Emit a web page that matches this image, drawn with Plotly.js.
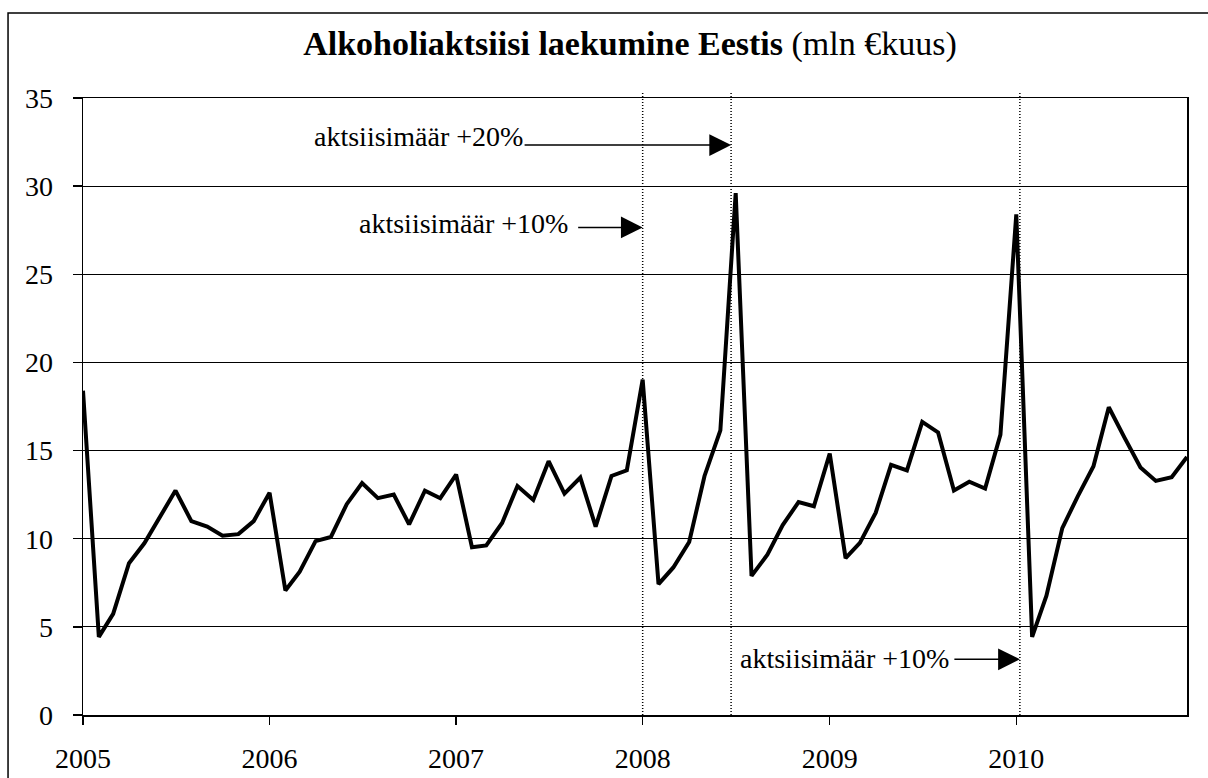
<!DOCTYPE html>
<html>
<head>
<meta charset="utf-8">
<script src="https://cdn.plot.ly/plotly-3.0.1.min.js"></script>
<style>html,body{margin:0;padding:0;background:#fff;}#chart{width:1208px;height:778px;}</style>
</head>
<body>
<div id="chart"></div>
<script>
// Monthly alcohol excise receipts in Estonia, mln € per month
const years = [2005, 2006, 2007, 2008, 2009, 2010];
const values2005 = [18.4, 4.43, 5.74, 8.61, 9.74, 11.24, 12.73, 11.0, 10.69, 10.17, 10.26, 11.0];
const values2006 = [12.61, 7.06, 8.13, 9.86, 10.1, 11.96, 13.16, 12.3, 12.51, 10.81, 12.73, 12.3];
const values2007 = [13.64, 9.52, 9.62, 10.89, 12.99, 12.2, 14.4, 12.56, 13.47, 10.69, 13.56, 13.88];
const values2008 = [19.02, 7.42, 8.37, 9.81, 13.56, 16.15, 29.6, 7.89, 9.09, 10.77, 12.08, 11.84];
const values2009 = [14.83, 8.9, 9.76, 11.48, 14.19, 13.88, 16.63, 16.03, 12.73, 13.23, 12.85, 15.91];
const values2010 = [28.4, 4.43, 6.77, 10.6, 12.39, 14.11, 17.46, 15.72, 14.04, 13.28, 13.49, 14.64];
const tickLabels = ['2005', '2006', '2007', '2008', '2009', '2010'];
const yTicks = [0, 5, 10, 15, 20, 25, 30, 35];

// Excise rate changes (event dates) and labels
const eventDates = ['2008-01-01', '2008-06-22', '2010-01-08'];
const eventLabels = ['aktsiisimäär +20%', 'aktsiisimäär +10%', 'aktsiisimäär +10%'];
const eventArrowDates = ['2008-06-22', '2008-01-01', '2010-01-08'];
const eventArrowLevels = [32.33, 27.66, 3.16];

const allValues = [values2005, values2006, values2007, values2008, values2009, values2010];
const x = [], y = [];
allValues.forEach((arr, yi) => {
  arr.forEach((v, m) => {
    x.push(years[yi] + '-' + String(m + 1).padStart(2, '0') + '-01');
    y.push(v);
  });
});

const FONT = "'Liberation Serif', 'Times New Roman', serif";

const trace = {
  x: x, y: y, type: 'scatter', mode: 'lines',
  line: {color: '#000', width: 4},
  hoverinfo: 'x+y'
};

const shapes = eventDates.map(d => ({
  type: 'line', xref: 'x', yref: 'paper', x0: d, x1: d, y0: 0, y1: 1.011,
  line: {color: '#000', width: 1.5, dash: '1px,2px'}, layer: 'between'
}));
// outer chart frame
shapes.push({
  type: 'rect', xref: 'paper', yref: 'paper',
  x0: -0.0679, x1: 1.03, y0: -0.12, y1: 1.1378,
  line: {color: '#000', width: 1.5}, fillcolor: 'rgba(0,0,0,0)', layer: 'above'
});

const arrowTails = [-208, -66, -67];
const textPos = [[0.4004, 0.937], [0.4415, 0.797], [0.7865, 0.0915]];

const annotations = [];
eventLabels.forEach((t, i) => {
  annotations.push({
    x: eventArrowDates[i], y: eventArrowLevels[i], xref: 'x', yref: 'y',
    ax: arrowTails[i], ay: 0, axref: 'pixel', ayref: 'pixel',
    text: '', showarrow: true, arrowhead: 2, arrowsize: 2.9, arrowwidth: 1.5,
    arrowcolor: '#000', standoff: 0
  });
  annotations.push({
    x: textPos[i][0], y: textPos[i][1], xref: 'paper', yref: 'paper',
    xanchor: 'right', yanchor: 'middle', showarrow: false, text: t,
    font: {family: FONT, size: 28, color: '#000'}
  });
});

const layout = {
  width: 1208, height: 778,
  margin: {l: 83, r: 21, t: 98, b: 63},
  paper_bgcolor: '#fff', plot_bgcolor: '#fff',
  showlegend: false,
  title: {
    text: '<b>Alkoholiaktsiisi laekumine Eestis</b> (mln €kuus)',
    font: {family: FONT, size: 34, color: '#000'},
    xref: 'container', yref: 'container', x: 0.5215, y: 0.944,
    xanchor: 'center', yanchor: 'middle'
  },
  xaxis: {
    type: 'date', range: [x[0], x[x.length - 1]],
    tickmode: 'array',
    tickvals: years.map(yr => yr + '-01-01'), ticktext: tickLabels,
    showgrid: false, zeroline: false,
    showline: true, mirror: true, linecolor: '#000', linewidth: 1.5,
    ticks: 'outside', ticklen: 8, tickcolor: '#000', tickwidth: 1.5,
    tickfont: {family: FONT, size: 28, color: '#000'},
    ticklabelstandoff: 10
  },
  yaxis: {
    range: [0, 35], tickmode: 'array', tickvals: yTicks,
    showgrid: true, gridcolor: '#000', gridwidth: 1, zeroline: false,
    showline: true, mirror: true, linecolor: '#000', linewidth: 1.5,
    ticks: 'outside', ticklen: 9, tickcolor: '#000', tickwidth: 1.5,
    tickfont: {family: FONT, size: 28, color: '#000'},
    ticklabelstandoff: 14
  },
  shapes: shapes,
  annotations: annotations
};

Plotly.newPlot('chart', [trace], layout, {displayModeBar: false, staticPlot: true});
</script>
</body>
</html>
